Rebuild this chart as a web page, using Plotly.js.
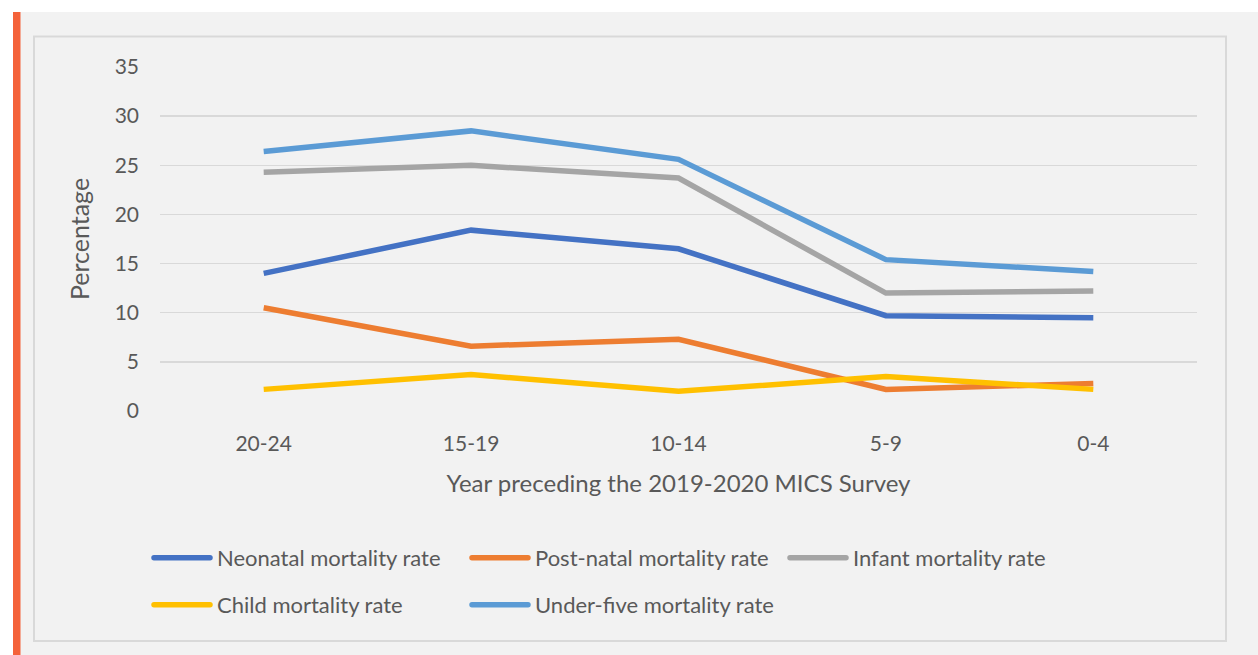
<!DOCTYPE html>
<html>
<head>
<meta charset="utf-8">
<script src="https://cdn.plot.ly/plotly-3.0.1.min.js"></script>
<style>html,body{margin:0;padding:0;background:#f2f2f2;}#chart{width:1258px;height:655px;}</style>
</head>
<body>
<div id="chart"></div>
<script>
const categories = ["20-24", "15-19", "10-14", "5-9", "0-4"];
const neonatal = [14.0, 18.4, 16.5, 9.7, 9.5];
const postNatal = [10.5, 6.6, 7.3, 2.2, 2.8];
const infant = [24.3, 25.0, 23.7, 12.0, 12.2];
const child = [2.2, 3.7, 2.0, 3.5, 2.2];
const underFive = [26.4, 28.5, 25.6, 15.4, 14.2];
const seriesNames = ["Neonatal mortality rate", "Post-natal mortality rate", "Infant mortality rate", "Child mortality rate", "Under-five mortality rate"];
const yTicks = [0, 5, 10, 15, 20, 25, 30, 35];

const W = 1258, H = 655;
const M = {l: 160, r: 61, t: 67, b: 244};
const pw = W - M.l - M.r, ph = H - M.t - M.b;
const px = x => (x - M.l) / pw;
const py = y => (H - M.b - y) / ph;

const colors = ["#4472C4", "#ED7D31", "#A5A5A5", "#FFC000", "#5B9BD5"];
const values = [neonatal, postNatal, infant, child, underFive];
const traces = values.map((v, i) => ({
  type: "scatter", mode: "lines", x: categories, y: v, name: seriesNames[i],
  line: {color: colors[i], width: 5.5},
  legend: i < 3 ? "legend" : "legend2",
  hoverinfo: "skip"
}));

const fam = "Lato, 'Open Sans', sans-serif";
const txt = "#595959";
const legendBase = {
  orientation: "h", x: px(147), xanchor: "left", yanchor: "middle",
  bgcolor: "rgba(0,0,0,0)", font: {family: fam, color: txt, size: 22},
  entrywidth: 243, entrywidthmode: "pixels", itemwidth: 60, traceorder: "normal"
};

const layout = {
  width: W, height: H, margin: M,
  paper_bgcolor: "#f2f2f2", plot_bgcolor: "#f2f2f2",
  font: {family: fam, color: txt, size: 21}, showlegend: true,
  xaxis: {
    type: "category", range: [-0.5, 4.5], showgrid: false, zeroline: false,
    showline: false, ticks: "", tickfont: {size: 21, color: txt},
    ticklabelstandoff: 18,
    title: {text: "Year preceding the 2019-2020 MICS Survey", font: {size: 24, color: txt}, standoff: 21}
  },
  yaxis: {
    range: [0, 35], tickvals: yTicks, showgrid: true, gridcolor: "#d9d9d9", gridwidth: 1.5,
    zeroline: false, showline: false, ticks: "", tickfont: {size: 21, color: txt},
    ticklabelstandoff: 20,
    title: {text: "Percentage", font: {size: 25, color: txt}, standoff: 17}
  },
  legend: Object.assign({}, legendBase, {y: py(558)}),
  legend2: Object.assign({}, legendBase, {y: py(605)}),
  shapes: [
    {type: "rect", xref: "paper", yref: "paper", x0: px(0), x1: px(W), y0: py(12), y1: py(0), fillcolor: "#ffffff", line: {width: 0}, layer: "below"},
    {type: "rect", xref: "paper", yref: "paper", x0: px(0), x1: px(13), y0: py(H), y1: py(0), fillcolor: "#ffffff", line: {width: 0}, layer: "below"},
    {type: "rect", xref: "paper", yref: "paper", x0: px(13), x1: px(20.5), y0: py(H), y1: py(12), fillcolor: "#F4623A", line: {width: 0}, layer: "below"},
    {type: "rect", xref: "paper", yref: "paper", x0: px(34), x1: px(1226), y0: py(641), y1: py(36.5), fillcolor: "rgba(0,0,0,0)", line: {color: "#d9d9d9", width: 2}, layer: "below"}
  ]
};

Plotly.newPlot("chart", traces, layout, {staticPlot: true, displayModeBar: false}).then(gd => {
  gd.querySelectorAll(".legendlines path").forEach(p => {
    p.setAttribute("d", "M7,0h56");
    p.style.strokeLinecap = "round";
  });
});
</script>
</body>
</html>
